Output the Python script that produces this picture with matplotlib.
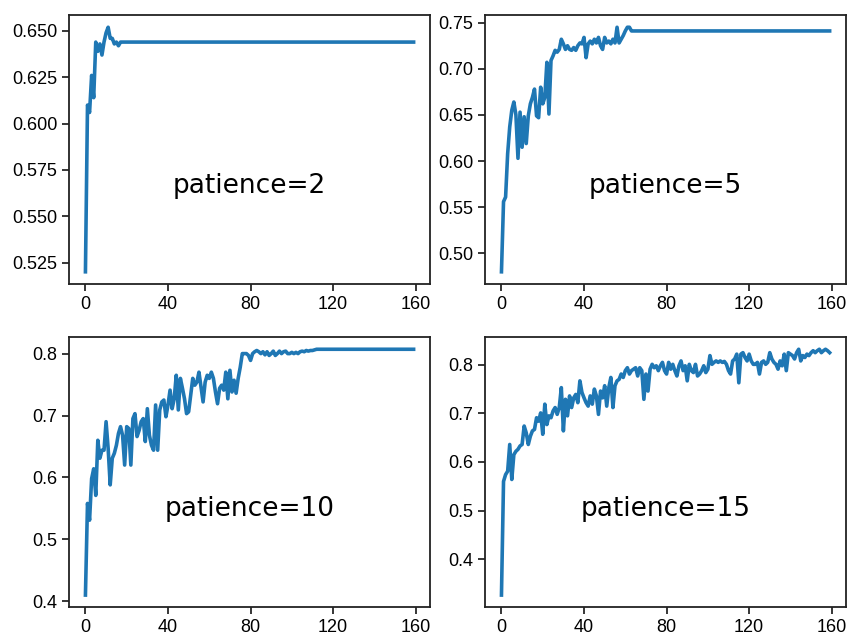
import matplotlib
matplotlib.use("Agg")
import matplotlib.pyplot as plt

# validation accuracy per epoch; after early stopping
# the curve is held flat at the stopping value up to the last epoch
last_epoch = 159

acc_p2 = [0.520, 0.610, 0.606, 0.626, 0.614, 0.644, 0.639, 0.643, 0.637, 0.644,
          0.649, 0.652, 0.646, 0.646, 0.643, 0.644, 0.642, 0.644]
stop_p2 = 0.644

acc_p5 = [0.480, 0.556, 0.561, 0.608, 0.637, 0.655, 0.664, 0.650, 0.603, 0.653,
          0.615, 0.648, 0.619, 0.649, 0.662, 0.669, 0.678, 0.649, 0.647, 0.680,
          0.662, 0.669, 0.707, 0.651, 0.709, 0.714, 0.720, 0.718, 0.721, 0.732,
          0.727, 0.721, 0.725, 0.721, 0.720, 0.723, 0.720, 0.725, 0.728, 0.727,
          0.734, 0.712, 0.727, 0.730, 0.727, 0.732, 0.728, 0.734, 0.725, 0.721,
          0.734, 0.728, 0.730, 0.727, 0.732, 0.728, 0.745, 0.728, 0.732, 0.736,
          0.741, 0.745, 0.745, 0.741]
stop_p5 = 0.741

acc_p10 = [0.410, 0.558, 0.531, 0.598, 0.614, 0.571, 0.660, 0.631, 0.644, 0.644,
           0.690, 0.647, 0.588, 0.631, 0.639, 0.652, 0.671, 0.682, 0.668, 0.620,
           0.682, 0.679, 0.620, 0.695, 0.703, 0.666, 0.676, 0.690, 0.695, 0.658,
           0.711, 0.668, 0.652, 0.644, 0.717, 0.644, 0.709, 0.722, 0.725, 0.698,
           0.717, 0.741, 0.711, 0.727, 0.765, 0.709, 0.760, 0.744, 0.727, 0.703,
           0.706, 0.733, 0.760, 0.749, 0.754, 0.770, 0.746, 0.722, 0.754, 0.765,
           0.760, 0.770, 0.760, 0.738, 0.719, 0.744, 0.749, 0.741, 0.770, 0.727,
           0.773, 0.738, 0.757, 0.736, 0.760, 0.778, 0.800, 0.800, 0.800, 0.797,
           0.789, 0.800, 0.803, 0.805, 0.803, 0.800, 0.803, 0.798, 0.803, 0.797,
           0.800, 0.804, 0.797, 0.800, 0.804, 0.800, 0.803, 0.804, 0.800, 0.800,
           0.802, 0.800, 0.802, 0.800, 0.803, 0.804, 0.803, 0.805, 0.804, 0.805,
           0.805, 0.806]
stop_p10 = 0.807

acc_p15 = [0.326, 0.560, 0.574, 0.581, 0.636, 0.564, 0.615, 0.622, 0.626, 0.633,
           0.636, 0.674, 0.660, 0.636, 0.653, 0.664, 0.667, 0.691, 0.684, 0.701,
           0.657, 0.719, 0.677, 0.695, 0.691, 0.705, 0.712, 0.698, 0.712, 0.753,
           0.664, 0.729, 0.695, 0.736, 0.712, 0.732, 0.739, 0.722, 0.767, 0.743,
           0.732, 0.722, 0.715, 0.736, 0.719, 0.750, 0.736, 0.698, 0.746, 0.732,
           0.757, 0.715, 0.753, 0.774, 0.712, 0.757, 0.767, 0.770, 0.781, 0.774,
           0.788, 0.794, 0.781, 0.788, 0.791, 0.794, 0.777, 0.794, 0.788, 0.729,
           0.781, 0.746, 0.791, 0.801, 0.794, 0.798, 0.788,
           0.798, 0.805, 0.788, 0.781, 0.805, 0.791, 0.801, 0.788, 0.777, 0.798,
           0.808, 0.788, 0.798, 0.767, 0.801, 0.788, 0.784, 0.801, 0.777, 0.781,
           0.788, 0.798, 0.784, 0.791, 0.819, 0.801, 0.805, 0.808, 0.805, 0.808,
           0.805, 0.807, 0.801, 0.788, 0.781, 0.808, 0.812, 0.822, 0.763, 0.822,
           0.825, 0.815, 0.808, 0.822, 0.808, 0.801, 0.801, 0.805, 0.781, 0.805,
           0.808, 0.801, 0.805, 0.825, 0.812, 0.805, 0.801, 0.791, 0.808, 0.798,
           0.822, 0.788, 0.825, 0.822, 0.819, 0.812, 0.825, 0.832, 0.808, 0.819,
           0.815, 0.822, 0.819, 0.825, 0.829, 0.825, 0.829, 0.832, 0.825, 0.829,
           0.832, 0.829, 0.825]
stop_p15 = None

labels = ["patience=2", "patience=5", "patience=10", "patience=15"]
yticks_p2 = [0.525, 0.550, 0.575, 0.600, 0.625, 0.650]
yticks_p5 = [0.50, 0.55, 0.60, 0.65, 0.70, 0.75]
yticks_p10 = [0.4, 0.5, 0.6, 0.7, 0.8]
yticks_p15 = [0.4, 0.5, 0.6, 0.7, 0.8]
xticks = [0, 40, 80, 120, 160]

plt.rcParams['font.family'] = ['Liberation Sans', 'DejaVu Sans']

fig = plt.figure(figsize=(8.48, 6.34), dpi=100)
rects = [[0.0814, 0.552, 0.4257, 0.4243],
         [0.5720, 0.552, 0.4257, 0.4243],
         [0.0814, 0.042, 0.4257, 0.4265],
         [0.5720, 0.042, 0.4257, 0.4265]]
series = [(acc_p2, stop_p2, yticks_p2, "%.3f"),
          (acc_p5, stop_p5, yticks_p5, "%.2f"),
          (acc_p10, stop_p10, yticks_p10, "%.1f"),
          (acc_p15, stop_p15, yticks_p15, "%.1f")]

for rect, (acc, stop, yt, fmt), lab in zip(rects, series, labels):
    ax = fig.add_axes(rect)
    x = list(range(len(acc)))
    y = list(acc)
    if stop is not None:
        x = x + [len(acc), last_epoch]
        y = y + [stop, stop]
    ax.plot(x, y, color='#1f77b4', lw=2.6)
    ax.set_xticks(xticks)
    ax.set_yticks(yt)
    ax.set_yticklabels([fmt % v for v in yt])
    ax.tick_params(labelsize=13, length=5, width=1.1, colors='black')
    for s in ax.spines.values():
        s.set_linewidth(1.3)
        s.set_color('#222222')
    ax.text(0.5, 0.365, lab, transform=ax.transAxes, ha='center', va='center',
            fontsize=19, family='DejaVu Sans')

fig.savefig("out.png", dpi=100)
